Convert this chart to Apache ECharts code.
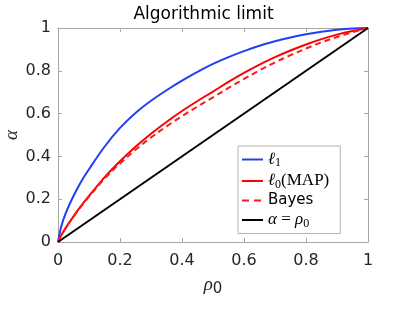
<!DOCTYPE html>
<html><head><meta charset="utf-8">
<script src="https://cdn.jsdelivr.net/npm/echarts@6/dist/echarts.min.js"></script>
<style>html,body{margin:0;padding:0;background:#fff}#c{width:407px;height:309px}</style>
</head><body><div id="c"></div>
<script>
const rho =   [0, 0.01, 0.025, 0.05, 0.075, 0.1, 0.15, 0.2, 0.25, 0.3, 0.35, 0.4, 0.45, 0.5, 0.55, 0.6, 0.65, 0.7, 0.75, 0.8, 0.85, 0.9, 0.95, 1];
const l1 =    [0, 0.07, 0.135, 0.215, 0.283, 0.34, 0.445, 0.533, 0.603, 0.66, 0.709, 0.754, 0.795, 0.832, 0.864, 0.892, 0.917, 0.938, 0.956, 0.971, 0.983, 0.992, 0.998, 1];
const l0map = [0, 0.03, 0.066, 0.12, 0.17, 0.215, 0.302, 0.377, 0.445, 0.506, 0.561, 0.612, 0.659, 0.703, 0.748, 0.79, 0.829, 0.864, 0.895, 0.923, 0.948, 0.969, 0.986, 1];
const bayes = [0, 0.03, 0.066, 0.119, 0.167, 0.212, 0.296, 0.367, 0.431, 0.488, 0.54, 0.588, 0.633, 0.676, 0.72, 0.762, 0.802, 0.839, 0.873, 0.904, 0.933, 0.958, 0.98, 1];
const diagX = [0, 1];
const diag =  [0, 1];
const ticks = [0, 0.2, 0.4, 0.6, 0.8, 1];

const pair = (xs, ys) => xs.map((x, i) => [x, ys[i]]);
const chart = echarts.init(document.getElementById('c'));
const axisCol = '#a6a6a6';
const lblCol = '#262626';
const sans = 'DejaVu Sans, sans-serif';
const serif = 'Liberation Serif, DejaVu Serif, serif';
const fmt = v => { const r = +(+v).toFixed(1); return ticks.includes(r) ? String(r) : ''; };
const baseAxis = {
  type: 'value', min: 0, max: 1, interval: 0.2,
  axisLine: { show: true, onZero: false, lineStyle: { color: axisCol, width: 1 } },
  axisTick: { show: true, inside: true, length: 4, lineStyle: { color: axisCol } },
  splitLine: { show: false },
};
const solidIcon = 'path://M0,0 L21,0 L21,2 L0,2 Z';
const dashIcon = 'path://M0,0 L7,0 L7,2 L0,2 Z M12,0 L19,0 L19,2 L12,2 Z M21,0 L21,2 L21,2 Z';
chart.setOption({
  animation: false,
  title: { text: 'Algorithmic limit', left: 'center', top: 1,
    textStyle: { fontFamily: sans, fontSize: 17, fontWeight: 'normal', color: '#000' } },
  grid: { left: 58, right: 39, top: 28, bottom: 67, containLabel: false, outerBoundsMode: 'none' },
  xAxis: [
    Object.assign({}, baseAxis, { position: 'bottom',
      axisLabel: { formatter: fmt, color: lblCol, fontFamily: sans, fontSize: 16, margin: 11 },
      name: '{i|ρ}{s|0}', nameLocation: 'middle', nameGap: 30, nameMoveOverlap: false,
      nameTextStyle: { rich: { i: { fontFamily: serif, fontStyle: 'italic', fontSize: 19, color: lblCol },
        s: { fontFamily: sans, fontSize: 15, color: lblCol, padding: [10, 0, 0, 0] } } } }),
    Object.assign({}, baseAxis, { position: 'top', axisLabel: { show: false } })
  ],
  yAxis: [
    Object.assign({}, baseAxis, { position: 'left',
      axisLabel: { formatter: fmt, color: lblCol, fontFamily: sans, fontSize: 16, margin: 7 },
      name: 'α', nameLocation: 'middle', nameGap: 37, nameRotate: 90, nameMoveOverlap: false,
      nameTextStyle: { fontFamily: serif, fontStyle: 'italic', fontSize: 19, color: lblCol } }),
    Object.assign({}, baseAxis, { position: 'right', axisLabel: { show: false } })
  ],
  legend: {
    orient: 'vertical', left: 238, top: 146,
    backgroundColor: '#fff', borderColor: '#b3b3b3', borderWidth: 1, borderRadius: 0,
    padding: [4, 11, 4, 4], itemGap: 2.5, itemWidth: 21, itemHeight: 2, itemTextGap: 3,
    data: [
      { name: 'l1', icon: solidIcon },
      { name: 'l0', icon: solidIcon },
      { name: 'Bayes', icon: dashIcon },
      { name: 'diag', icon: solidIcon }
    ],
    formatter: n => ({
      l1: '{m|ℓ}{s|1}',
      l0: '{m|ℓ}{s|0}{u|(MAP)}',
      Bayes: '{t|Bayes}',
      diag: '{m|α}{u| = }{m|ρ}{s|0}'
    })[n],
    textStyle: { rich: {
      m: { fontFamily: serif, fontStyle: 'italic', fontSize: 17, color: '#000', lineHeight: 18 },
      u: { fontFamily: serif, fontSize: 17, color: '#000', lineHeight: 18 },
      s: { fontFamily: serif, fontSize: 12, color: '#000', lineHeight: 18, padding: [7, 0, 0, 0] },
      t: { fontFamily: sans, fontSize: 15, color: '#000', lineHeight: 18 }
    } }
  },
  series: [
    { name: 'l1', type: 'line', data: pair(rho, l1), smooth: 0.35, symbol: 'none',
      lineStyle: { color: '#1f3ff5', width: 2 }, itemStyle: { color: '#1f3ff5' } },
    { name: 'l0', type: 'line', data: pair(rho, l0map), smooth: 0.35, symbol: 'none',
      lineStyle: { color: '#ff0000', width: 2 }, itemStyle: { color: '#ff0000' } },
    { name: 'Bayes', type: 'line', data: pair(rho, bayes), smooth: 0.35, symbol: 'none',
      lineStyle: { color: '#ff1a1a', width: 2, type: [6, 4] }, itemStyle: { color: '#ff1a1a' } },
    { name: 'diag', type: 'line', data: pair(diagX, diag), symbol: 'none',
      lineStyle: { color: '#000', width: 2 }, itemStyle: { color: '#000' } }
  ]
});
</script></body></html>
